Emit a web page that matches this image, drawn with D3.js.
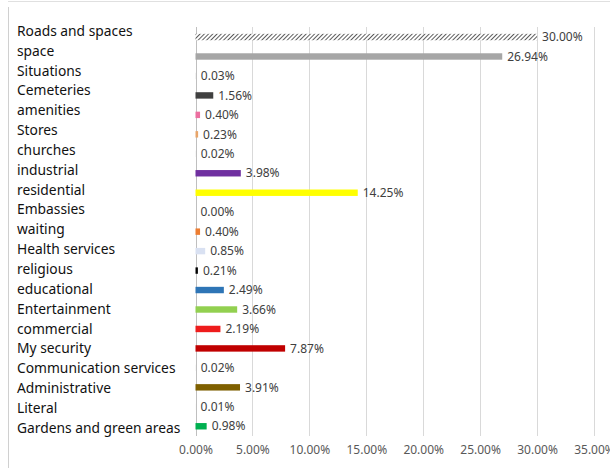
<!DOCTYPE html>
<html><head><meta charset="utf-8">
<script src="https://cdn.jsdelivr.net/npm/d3@7"></script>
<style>body{margin:0;background:#fff;}svg{display:block;}</style>
</head><body>
<script>
const categories = ["Roads and spaces","space","Situations","Cemeteries","amenities","Stores","churches","industrial","residential","Embassies","waiting","Health services","religious","educational","Entertainment","commercial","My security","Communication services","Administrative","Literal","Gardens and green areas"];
const values = [30.00,26.94,0.03,1.56,0.40,0.23,0.02,3.98,14.25,0.00,0.40,0.85,0.21,2.49,3.66,2.19,7.87,0.02,3.91,0.01,0.98];
const barColors = ["url(#hatch)","#a6a6a6","#d9d9d9","#404040","#ec6fa0","#e8a56a","#d9d9d9","#7030a0","#ffff00","#d9d9d9","#ed7d31","#d9e1f2","#000000","#2e75b6","#92d050","#ee1c1c","#c00000","#d9d9d9","#7f6000","#d9d9d9","#00b050"];
const tickValues = [0,5,10,15,20,25,30,35];

const W = 610, H = 468;
const svg = d3.select("body").append("svg").attr("width", W).attr("height", H);
const defs = svg.append("defs");
const pat = defs.append("pattern").attr("id","hatch").attr("patternUnits","userSpaceOnUse")
  .attr("width",3).attr("height",3).attr("patternTransform","rotate(45)");
pat.append("rect").attr("width",3).attr("height",3).attr("fill","#fff");
pat.append("line").attr("x1",0).attr("y1",0).attr("x2",0).attr("y2",3).attr("stroke","#404040").attr("stroke-width",1.7);

// frame
svg.append("line").attr("x1",8.5).attr("x2",8.5).attr("y1",7).attr("y2",H).attr("stroke","#d0d0d0");
svg.append("line").attr("x1",8).attr("x2",W).attr("y1",1.5).attr("y2",1.5).attr("stroke","#e0e0e0");

const x = d3.scaleLinear().domain([0,35]).range([195.5,594]);
const y = d3.scaleBand().domain(categories).range([27.3,436]).paddingInner(0.67).paddingOuter(0.335);
const yLab = d3.scalePoint().domain(categories).range([31,428]);

// grid
svg.append("g").selectAll("line").data(tickValues.slice(1)).join("line")
  .attr("x1",d=>Math.round(x(d))+0.5).attr("x2",d=>Math.round(x(d))+0.5)
  .attr("y1",27).attr("y2",436).attr("stroke","#d9d9d9");
svg.append("line").attr("x1",Math.round(x(0))+0.5).attr("x2",Math.round(x(0))+0.5)
  .attr("y1",27).attr("y2",436).attr("stroke","#bfbfbf");

// x axis labels
const xAxis = d3.axisBottom(x).tickValues(tickValues).tickSize(0).tickPadding(0)
  .tickFormat(d=>d3.format(".2f")(d)+"%");
const gx = svg.append("g").attr("transform","translate(0,445)").call(xAxis);
gx.select(".domain").remove();
gx.selectAll("text").attr("font-family","Noto Sans").attr("font-size",12).attr("fill","#595959");

// bars
const data = categories.map((c,i)=>({c, v: values[i], col: barColors[i]}));
svg.append("g").selectAll("rect").data(data).join("rect")
  .attr("x",x(0)).attr("y",d=>y(d.c)).attr("height",y.bandwidth())
  .attr("width",d=>x(d.v)-x(0)).attr("fill",d=>d.col);

// value labels
svg.append("g").selectAll("text").data(data).join("text")
  .attr("x",d=>x(d.v)+5).attr("y",d=>y(d.c)+y.bandwidth()/2)
  .attr("dy","0.35em").attr("font-family","Noto Sans").attr("font-size",12)
  .attr("fill","#404040").text(d=>d3.format(".2f")(d.v)+"%");

// category labels
svg.append("g").selectAll("text").data(categories).join("text")
  .attr("x",17).attr("y",d=>yLab(d)).attr("dy","0.35em")
  .attr("font-family","Noto Sans").attr("font-size",13.8).attr("fill","#111").text(d=>d);
</script>
</body></html>
